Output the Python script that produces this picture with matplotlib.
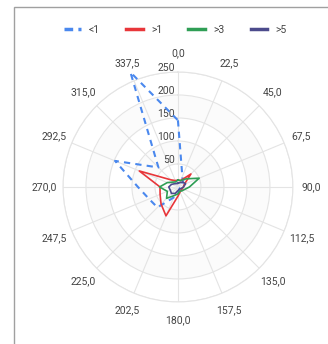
import numpy as np
import matplotlib.pyplot as plt
from matplotlib.patches import Rectangle
from matplotlib.lines import Line2D
import matplotlib.transforms as mtransforms

plt.rcParams['font.family'] = ['Roboto', 'DejaVu Sans']

# wind directions (degrees) and their labels
directions = ['0,0', '22,5', '45,0', '67,5', '90,0', '112,5', '135,0', '157,5',
              '180,0', '202,5', '225,0', '247,5', '270,0', '292,5', '315,0', '337,5']
r_ticks = [50, 100, 150, 200, 250]

# series values per direction
lt1 = [145, 25, 15, 10, 8, 5, 5, 8, 15, 25, 63, 68, 87, 148, 60, 270]
gt1 = [15, 15, 40, 15, 12, 10, 10, 12, 20, 68, 52, 42, 39, 91, 22, 15]
gt3 = [15, 15, 25, 50, 25, 15, 12, 10, 15, 20, 35, 25, 40, 25, 15, 12]
gt5 = [8, 10, 15, 18, 12, 8, 6, 6, 8, 15, 20, 18, 20, 15, 10, 8]

series_names = ['<1', '>1', '>3', '>5']
colors = ['#4a88ee', '#e8363a', '#2f9e55', '#4c4b8c']

fig = plt.figure(figsize=(3.28, 3.44), dpi=100)
ax = fig.add_axes([0.192, 0.122, 0.701, 0.669], projection='polar')
ax.set_theta_zero_location('N')
ax.set_theta_direction(-1)

theta = np.deg2rad(np.arange(len(directions)) * 22.5)
theta_c = np.append(theta, theta[0])

# very faint alternating rings
tt = np.linspace(0, 2 * np.pi, 200)
edges = [0] + r_ticks
for i in range(len(r_ticks)):
    c = '#ffffff' if i % 2 == 0 else '#fbfbfb'
    ax.fill_between(tt, edges[i], edges[i + 1], color=c, zorder=0, lw=0)

ax.set_ylim(0, 250)
ax.set_yticks(r_ticks)
ax.set_yticklabels([])
ax.set_xticks(theta)
ax.set_xticklabels(directions, fontsize=7.5, color='#444444')
ax.tick_params(axis='x', pad=3)
ax.grid(color='#e4e4e4', lw=0.8)
ax.spines['polar'].set_color('#e4e4e4')
ax.spines['polar'].set_linewidth(0.8)

# radial labels along the top spoke
off = mtransforms.offset_copy(ax.transData, fig=fig, x=-2, y=-1, units='points')
for r in r_ticks:
    ax.text(0, r, str(r), transform=off, ha='right', va='bottom',
            fontsize=7.5, color='#444444')

data = [lt1, gt1, gt3, gt5]
for vals, name, col in zip(data, series_names, colors):
    v = np.append(vals, vals[0])
    if name == '<1':
        ax.plot(theta_c, v, color=col, lw=1.5, ls=(0, (3, 2.5)), clip_on=False, zorder=5)
    else:
        ax.plot(theta_c, v, color=col, lw=1.2, clip_on=False, zorder=5)

handles = [Line2D([], [], color=colors[0], lw=2.5, ls=(0, (2.5, 1.5))),
           Line2D([], [], color=colors[1], lw=2.5),
           Line2D([], [], color=colors[2], lw=2.5),
           Line2D([], [], color=colors[3], lw=2.5)]
fig.legend(handles, series_names, loc='center', bbox_to_anchor=(0.535, 0.913),
           ncol=4, frameon=False, fontsize=7.5, handlelength=1.6,
           columnspacing=2.5, handletextpad=0.8, labelcolor='#444444')

# outer frame
fig.patches.append(Rectangle((14 / 328, -0.05), 1.0, 1.05 - 7 / 344, fill=False,
                             edgecolor='#a0a0a0', lw=1.0, transform=fig.transFigure))

fig.savefig('out.png', dpi=100)
